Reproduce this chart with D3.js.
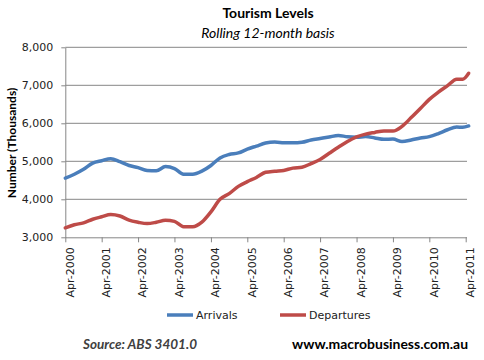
<!DOCTYPE html>
<html>
<head>
<meta charset="utf-8">
<script src="https://cdn.jsdelivr.net/npm/d3@7"></script>
<style>
  html, body { margin: 0; padding: 0; background: #fff; }
  svg { display: block; }
</style>
</head>
<body>
<svg id="chart" width="484" height="360"></svg>
<script>
// ---- Data (thousands) ----
const dates = [
  "2000-04","2000-07","2000-10","2001-01","2001-04","2001-07","2001-10","2002-01",
  "2002-04","2002-07","2002-10","2003-01","2003-04","2003-07","2003-10","2004-01",
  "2004-04","2004-07","2004-10","2005-01","2005-04","2005-07","2005-10","2006-01",
  "2006-04","2006-07","2006-10","2007-01","2007-04","2007-07","2007-10","2008-01",
  "2008-04","2008-07","2008-10","2009-01","2009-04","2009-07","2009-10","2010-01",
  "2010-04","2010-07","2010-10","2011-01","2011-03","2011-05"
];
const arrivals = [
  4560,4660,4790,4950,5015,5070,4990,4890,
  4835,4760,4750,4860,4810,4660,4660,4740,
  4890,5090,5180,5220,5320,5400,5480,5505,
  5490,5485,5500,5560,5600,5640,5680,5645,
  5635,5650,5615,5579,5587,5520,5560,5615,
  5650,5730,5830,5900,5895,5930
];
const departures = [
  3250,3330,3380,3475,3540,3600,3560,3450,
  3395,3360,3395,3450,3420,3280,3280,3400,
  3670,4000,4150,4340,4465,4575,4710,4740,
  4760,4820,4842,4940,5050,5210,5370,5520,
  5640,5715,5760,5800,5795,5920,6150,6390,
  6630,6820,6990,7160,7158,7316
];
const seriesNames = ["Arrivals", "Departures"];
const yTicks = [3000, 4000, 5000, 6000, 7000, 8000];
const xTickLabels = ["Apr-2000","Apr-2001","Apr-2002","Apr-2003","Apr-2004","Apr-2005",
  "Apr-2006","Apr-2007","Apr-2008","Apr-2009","Apr-2010","Apr-2011"];

(function () {
// ---- Layout ----
const svg = d3.select("#chart");
const pLeft = 65.3, pRight = 465.7, pTop = 47.3, pBottom = 237.3, axisEnd = 467;
const parse = d3.timeParse("%Y-%m");
const tickParse = d3.timeParse("%b-%Y");
const colors = ["#4A7EBB", "#BE4B48"];

const x = d3.scaleTime()
  .domain([parse("2000-04"), parse("2011-04")])
  .range([pLeft, pRight]);
const y = d3.scaleLinear().domain([3000, 8000]).range([pBottom, pTop]);

// gridlines
svg.append("g").selectAll("line").data(yTicks.slice(1)).join("line")
  .attr("x1", pLeft).attr("x2", axisEnd)
  .attr("y1", d => y(d)).attr("y2", d => y(d))
  .attr("stroke", "#868686").attr("stroke-width", 1);

// y axis
const yAxis = d3.axisLeft(y).tickValues(yTicks).tickSize(4).tickSizeOuter(0)
  .tickFormat(d3.format(","));
const gy = svg.append("g").attr("transform", `translate(${pLeft},0)`).call(yAxis);
gy.select(".domain").attr("stroke", "#868686");
gy.selectAll(".tick line").attr("stroke", "#868686");
gy.selectAll(".tick text")
  .attr("x", -12)
  .style("font-family", "'DejaVu Sans', sans-serif")
  .style("font-size", "11px").attr("fill", "#222");

// x axis
const xAxis = d3.axisBottom(x)
  .tickValues(xTickLabels.map(tickParse))
  .tickSize(5).tickSizeOuter(0)
  .tickFormat(d3.timeFormat("%b-%Y"));
const gx = svg.append("g").attr("transform", `translate(0,${pBottom})`).call(xAxis);
gx.select(".domain").attr("d", `M${pLeft},0.5H${axisEnd}`).attr("stroke", "#868686");
gx.selectAll(".tick line").attr("stroke", "#868686");
gx.selectAll(".tick text")
  .attr("transform", "rotate(-90)")
  .attr("text-anchor", "end")
  .attr("x", -10).attr("y", 4).attr("dy", "0.35em")
  .style("font-family", "'DejaVu Sans', sans-serif")
  .style("font-size", "11px").attr("fill", "#222");

// lines
const series = [arrivals, departures];
const line = d3.line()
  .x((d, i) => x(parse(dates[i])))
  .y(d => y(d))
  .curve(d3.curveMonotoneX);
svg.append("g").selectAll("path").data(series).join("path")
  .attr("d", d => line(d))
  .attr("fill", "none")
  .attr("stroke", (d, i) => colors[i])
  .attr("stroke-width", 3.5)
  .attr("stroke-linejoin", "round")
  .attr("stroke-linecap", "round");

// titles
svg.append("text").attr("x", 268).attr("y", 18).attr("text-anchor", "middle")
  .style("font-family", "Lato, sans-serif").style("font-weight", "bold")
  .style("font-size", "14px").text("Tourism Levels");
svg.append("text").attr("x", 268).attr("y", 38).attr("text-anchor", "middle")
  .style("font-family", "Lato, sans-serif").style("font-style", "italic")
  .style("font-size", "14px").text("Rolling 12-month basis");

// y axis title
svg.append("text")
  .attr("transform", "translate(16,143) rotate(-90)")
  .attr("text-anchor", "middle")
  .style("font-family", "Lato, sans-serif").style("font-weight", "bold")
  .style("font-size", "12px").text("Number (Thousands)");

// legend
const legendX = [167, 280];
const lg = svg.append("g").selectAll("g").data(seriesNames).join("g")
  .attr("transform", (d, i) => `translate(${legendX[i]},315)`);
lg.append("line").attr("x1", 0).attr("x2", 26).attr("y1", 0).attr("y2", 0)
  .attr("stroke", (d, i) => colors[i]).attr("stroke-width", 3.5);
lg.append("text").attr("x", 29).attr("y", 0).attr("dy", "0.35em")
  .style("font-family", "'DejaVu Sans', sans-serif").style("font-size", "11px")
  .attr("fill", "#222").text(d => d);

// footer
svg.append("text").attr("x", 83).attr("y", 349)
  .style("font-family", "Lato, sans-serif").style("font-weight", "bold")
  .style("font-style", "italic").style("font-size", "14px").attr("fill", "#404040")
  .attr("textLength", 114).attr("lengthAdjust", "spacingAndGlyphs")
  .text("Source: ABS 3401.0");
svg.append("text").attr("x", 292).attr("y", 349)
  .style("font-family", "Lato, sans-serif").style("font-weight", "bold")
  .style("font-size", "14px").attr("fill", "#000")
  .attr("textLength", 176).attr("lengthAdjust", "spacingAndGlyphs")
  .text("www.macrobusiness.com.au");
})();
</script>
</body>
</html>
